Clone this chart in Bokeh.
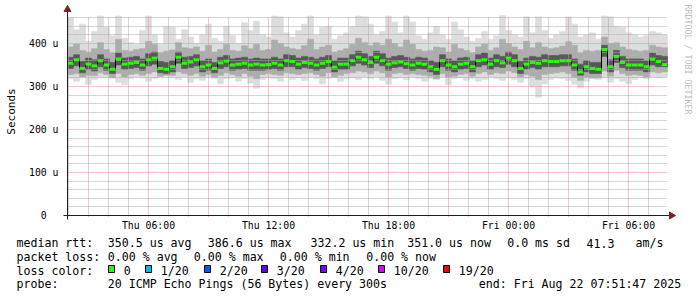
import math
import numpy as np
import pandas as pd
from bokeh.plotting import figure
from bokeh.layouts import column
from bokeh.core.properties import value
from bokeh.models import Range1d, FixedTicker, Grid, DatetimeTickFormatter, ColumnDataSource
from bokeh.embed import file_html
from bokeh.resources import INLINE

# ---------------- data ----------------
start_time = "2025-08-21 01:57:00"
step_minutes = 18

# median round trip time per 18-minute bin, microseconds
median_us = [354, 362, 342, 352, 348, 360, 350, 340, 364, 352, 354, 356, 350, 362, 366, 342, 340,
             346, 368, 354, 357, 362, 346, 350, 342, 355, 359, 350, 352, 354, 350, 352, 350,
             351, 354, 350, 360, 358, 352, 356, 354, 350, 354, 358, 345, 352, 352, 360, 368, 362,
             356, 368, 360, 352, 355, 357, 353, 350, 354, 352, 346, 340, 360, 350, 346, 352, 354,
             346, 360, 362, 352, 360, 355, 366, 360, 342, 352, 356, 354, 360, 358, 358, 360,
             360, 350, 334, 346, 342, 340, 386, 346, 370, 356, 350, 350, 350, 346, 364, 358, 351]

# outer smoke (lightest band)
max_us = [460, 432, 445, 405, 428, 464, 438, 418, 464, 412, 402, 398, 430, 464, 420, 398, 440,
          438, 410, 432, 415, 400, 420, 445, 412, 405, 440, 418, 400, 448, 430, 452, 420,
          415, 464, 462, 425, 415, 430, 445, 464, 420, 438, 440, 410, 418, 425, 440, 464, 462,
          445, 420, 428, 464, 450, 425, 464, 450, 418, 410, 425, 440, 420, 410, 450, 432, 415,
          405, 412, 428, 410, 418, 465, 430, 420, 415, 462, 425, 462, 430, 412, 420, 428,
          462, 445, 415, 420, 425, 410, 464, 462, 440, 438, 425, 420, 415, 418, 428, 425, 420]
min_us = [318, 312, 322, 305, 316, 320, 322, 324, 310, 304, 318, 322, 320, 312, 318, 322, 324,
          320, 316, 322, 310, 318, 314, 322, 318, 306, 318, 320, 312, 318, 308, 296, 316,
          320, 318, 312, 322, 316, 320, 314, 322, 318, 306, 318, 320, 312, 318, 320, 316, 322,
          318, 322, 314, 305, 318, 320, 316, 322, 318, 312, 318, 316, 322, 304, 318, 320, 314,
          318, 312, 316, 322, 318, 314, 320, 316, 310, 318, 300, 275, 306, 316, 320, 318,
          314, 305, 297, 312, 318, 316, 320, 310, 318, 312, 306, 316, 320, 318, 322, 320, 322]

# middle smoke band
hi2_us = [392, 398, 384, 380, 388, 402, 386, 378, 410, 384, 382, 386, 388, 405, 398, 378, 382,
          385, 402, 390, 388, 392, 382, 396, 380, 386, 398, 384, 382, 395, 388, 398, 384,
          386, 408, 400, 392, 388, 386, 395, 410, 386, 392, 396, 380, 384, 388, 398, 412, 402,
          395, 402, 396, 410, 400, 392, 408, 398, 386, 382, 384, 392, 390, 380, 398, 388, 384,
          378, 392, 398, 384, 390, 410, 400, 392, 386, 405, 390, 402, 392, 388, 390, 394,
          404, 396, 378, 384, 382, 384, 415, 400, 402, 392, 386, 384, 382, 384, 396, 392, 390]
lo2_us = [328, 330, 322, 326, 325, 332, 328, 320, 330, 322, 328, 330, 326, 330, 334, 324, 326,
          326, 334, 330, 326, 330, 324, 328, 322, 326, 332, 328, 324, 330, 324, 318, 328,
          330, 328, 326, 332, 330, 328, 330, 332, 328, 324, 332, 322, 326, 330, 332, 336, 334,
          330, 336, 332, 322, 330, 332, 328, 330, 328, 326, 324, 318, 330, 322, 324, 328, 330,
          324, 330, 334, 328, 332, 330, 336, 332, 322, 328, 324, 316, 328, 330, 332, 334,
          330, 322, 314, 322, 320, 320, 336, 324, 338, 330, 326, 328, 326, 322, 334, 332, 334]

# inner (darkest) smoke band
hi3_us = [368, 374, 358, 366, 362, 374, 364, 356, 378, 366, 368, 370, 364, 376, 380, 358, 356,
          360, 380, 368, 370, 374, 360, 364, 356, 368, 372, 364, 366, 368, 364, 366, 364,
          364, 368, 364, 374, 372, 366, 370, 368, 364, 368, 372, 360, 366, 366, 374, 382, 376,
          370, 382, 376, 366, 370, 372, 368, 364, 368, 366, 360, 356, 374, 364, 360, 366, 368,
          360, 374, 378, 366, 374, 370, 380, 374, 358, 366, 370, 368, 374, 372, 372, 374,
          374, 364, 352, 360, 356, 356, 396, 362, 384, 370, 364, 364, 364, 360, 378, 372, 370]
lo3_us = [342, 348, 332, 340, 336, 346, 338, 330, 350, 340, 342, 344, 338, 348, 352, 332, 330,
          334, 354, 342, 344, 348, 334, 338, 332, 342, 346, 338, 340, 342, 338, 338, 338,
          340, 342, 338, 346, 346, 340, 344, 342, 338, 342, 346, 334, 340, 340, 348, 354, 350,
          344, 354, 348, 338, 344, 346, 342, 338, 342, 340, 334, 328, 346, 338, 334, 340, 342,
          334, 346, 350, 340, 346, 344, 352, 346, 330, 340, 344, 340, 346, 346, 346, 348,
          348, 338, 326, 334, 330, 330, 370, 334, 356, 344, 338, 338, 338, 334, 350, 346, 346]

y_ticks = [0, 100, 200, 300, 400]
y_tick_labels = ["0\u00a0\u00a0", "100 u", "200 u", "300 u", "400 u"]
x_label_times = ["2025-08-21 06:00", "2025-08-21 12:00", "2025-08-21 18:00",
                 "2025-08-22 00:00", "2025-08-22 06:00"]

loss_labels = ["0", "1/20", "2/20", "3/20", "4/20", "10/20", "19/20"]
loss_colors = ["#26ff00", "#00b8ff", "#0059ff", "#5e00ff", "#7e00ff", "#dd00ff", "#ff0000"]

stats_line1 = ["median rtt:", "350.5 us avg", "386.6 us max", "332.2 us min",
               "351.0 us now", "0.0 ms sd", "41.3", "am/s"]
stats_line2 = ["packet loss:", "0.00 % avg", "0.00 % max", "0.00 % min", "0.00 % now"]
stats_line3 = ["loss color:"]
stats_line4 = ["probe:", "20 ICMP Echo Pings (56 Bytes) every 300s",
               "end: Fri Aug 22 07:51:47 2025"]
watermark = "RRDTOOL / TOBI OETIKER"

# ---------------- layout (page pixels) ----------------
W, H = 697, 297
HA = 234                      # height of the graph figure, legend figure below it
FRAME_L, FRAME_T, FRAME_B = 62, 3, 219
GX0, GX1 = 67, 667            # rrdtool graph area, x
GY0, GY1 = 215, 15            # rrdtool graph area, y
PX_PER_US = 0.43              # 43 px per 100 us, as in the reference
y_top = (GY0 - GY1) / PX_PER_US
REF_T = pd.Timestamp("2025-08-21 06:00")
REF_X = 148.0
MS_PER_PX = 30 * 3600 * 1000.0 / 600
FONT = "DejaVu Sans Mono"


def to_ms(ts):
    return pd.Timestamp(ts).value / 1e6


def xd(X):
    return to_ms(REF_T) + (X - REF_X) * MS_PER_PX


def yd(Y):
    return (GY0 - Y) / PX_PER_US


t0 = pd.date_range(pd.Timestamp(start_time), periods=len(median_us), freq=f"{step_minutes}min")
t1 = t0 + pd.Timedelta(minutes=step_minutes)
src = ColumnDataSource(dict(
    t0=t0.values, t1=t1.values, med=median_us,
    mx=max_us, mn=min_us, hi2=hi2_us, lo2=lo2_us, hi3=hi3_us, lo3=lo3_us))

p = figure(width=W, height=HA, x_axis_type="datetime",
           x_range=Range1d(xd(FRAME_L), xd(W)), y_range=Range1d(yd(FRAME_B), yd(FRAME_T)),
           output_backend="svg", toolbar_location=None,
           min_border_left=FRAME_L, min_border_right=0, min_border_top=FRAME_T,
           min_border_bottom=HA - FRAME_B,
           background_fill_color="white", border_fill_color="white", outline_line_color=None)

# smoke
for lo, hi, col in [("mn", "mx", "#dddddd"), ("lo2", "hi2", "#adadad"), ("lo3", "hi3", "#585858")]:
    r = p.quad(left="t0", right="t1", bottom=lo, top=hi, source=src,
               fill_color=col, line_color=col, line_width=0.6)
    r.level = "underlay"

# grids (dotted, drawn over the smoke as rrdtool does)
p.xgrid.visible = False
p.ygrid.visible = False
MAJ, MINC = "#e88c8c", "#ababab"
x_major = pd.date_range("2025-08-21 03:00", "2025-08-22 06:00", freq="3h")
x_minor = [t for t in pd.date_range("2025-08-21 02:00", "2025-08-22 07:00", freq="1h") if t.hour % 3]
gx = Grid(dimension=0, ticker=FixedTicker(ticks=[to_ms(t) for t in x_major],
                                          minor_ticks=[to_ms(t) for t in x_minor]),
          cross_bounds=(yd(GY0 + 0.5), yd(GY1 + 0.5)),
          grid_line_color=MAJ, grid_line_dash="1 1",
          minor_grid_line_color=MINC, minor_grid_line_dash="1 1", level="glyph")
gy = Grid(dimension=1, ticker=FixedTicker(ticks=[v for v in y_ticks if v > 0],
                                          minor_ticks=[v for v in range(20, 461, 20) if v % 100]),
          cross_bounds=(xd(GX0 - 0.5), xd(GX1 - 0.5)),
          grid_line_color=MAJ, grid_line_dash="1 1",
          minor_grid_line_color=MINC, minor_grid_line_dash="1 1", level="glyph")
p.add_layout(gx)
p.add_layout(gy)

# median: black connecting line, green (0 loss) segments
x_step = list(t0.values) + [t1.values[-1]]
y_step = list(median_us) + [median_us[-1]]
r = p.step(x=x_step, y=y_step, mode="after", line_color="#000000", line_width=1)
r.level = "annotation"
r = p.segment(x0="t0", y0="med", x1="t1", y1="med", source=src,
              line_color=loss_colors[0], line_width=3)
r.level = "annotation"

# axis lines and arrows
AX = "#1f1f1f"
ARR = "#801f1f"
r = p.segment(x0=[xd(63), xd(GX0)], y0=[0, yd(219)], x1=[xd(669), xd(GX0)], y1=[0, yd(11)],
              line_color=AX, line_width=1)
r.level = "annotation"
r = p.scatter(x=[xd(671), xd(GX0)], y=[0, yd(9)], marker="triangle", size=7,
              angle=[-math.pi / 2, 0], fill_color=ARR, line_color=ARR)
r.level = "annotation"

# watermark
p.text(x=[xd(687)], y=[yd(4)], text=[watermark], angle=-math.pi / 2,
       text_align="left", text_baseline="middle", text_font=value(FONT),
       text_font_size=value("8.3px"), text_color="#bdbdbd")

# axes
p.xaxis.ticker = FixedTicker(ticks=[to_ms(t) for t in x_label_times], minor_ticks=[])
fmt = "%a %H:%M"
p.xaxis.formatter = DatetimeTickFormatter(hours=fmt, hourmin=fmt, days=fmt, minutes=fmt,
                                          minsec=fmt, months=fmt, years=fmt)
p.yaxis.ticker = FixedTicker(ticks=y_ticks, minor_ticks=[])
p.yaxis.major_label_overrides = {v: s for v, s in zip(y_ticks, y_tick_labels)}
for ax in (p.xaxis[0], p.yaxis[0]):
    ax.axis_line_color = None
    ax.major_tick_line_color = None
    ax.minor_tick_line_color = None
    ax.major_tick_out = 0
    ax.major_tick_in = 0
    ax.major_label_text_font = FONT
    ax.major_label_text_font_size = "9.8px"
    ax.major_label_text_color = "#000000"
p.xaxis.major_label_standoff = 0
p.yaxis.major_label_standoff = 4
p.yaxis.axis_label = "Seconds"
p.yaxis.axis_label_text_font = FONT
p.yaxis.axis_label_text_font_size = "11px"
p.yaxis.axis_label_text_font_style = "normal"
p.yaxis.axis_label_text_color = "#000000"
p.yaxis.axis_label_standoff = 8

# ---------------- legend / statistics block ----------------
q = figure(width=W, height=H - HA, x_range=Range1d(0, W), y_range=Range1d(H, HA),
           output_backend="svg", toolbar_location=None,
           x_axis_location=None, y_axis_location=None,
           min_border=0, min_border_left=0, min_border_right=0, min_border_top=0,
           min_border_bottom=0,
           background_fill_color="white", border_fill_color="white", outline_line_color=None)
q.grid.visible = False

# each block keeps its own frame (no frame alignment between the two figures)
for fig in (p, q):
    if "frame_align" in fig.properties():
        fig.frame_align = False

rows_y = [242.8, 256.5, 270.2, 283.9]
tx, ty, tt = [], [], []
for xs, line, yy in [([16, 107.3, 207.3, 310, 406.7, 506.7, 586, 635], stats_line1, rows_y[0]),
                     ([16, 107.3, 193.3, 279.3, 365.7], stats_line2, rows_y[1]),
                     ([16], stats_line3, rows_y[2]),
                     ([16, 107.3, 478.3], stats_line4, rows_y[3])]:
    for X, s in zip(xs, line):
        tx.append(X)
        ty.append(yy)
        tt.append(s)
box_x = [108, 145, 204, 261, 320, 378, 443]
for X, s in zip(box_x, loss_labels):
    tx.append(X + 15.3)
    ty.append(rows_y[2])
    tt.append(s)
q.text(x=tx, y=ty, text=tt, text_align="left", text_baseline="alphabetic",
       text_font=value(FONT), text_font_size=value("11.6px"), text_color="#000000")
q.quad(left=box_x, right=[X + 6 for X in box_x],
       top=[265] * len(box_x), bottom=[272] * len(box_x),
       fill_color=loss_colors, line_color="#000000", line_width=1)

layout = column(p, q, spacing=0)
open("out.html", "w").write(file_html(layout, INLINE))
